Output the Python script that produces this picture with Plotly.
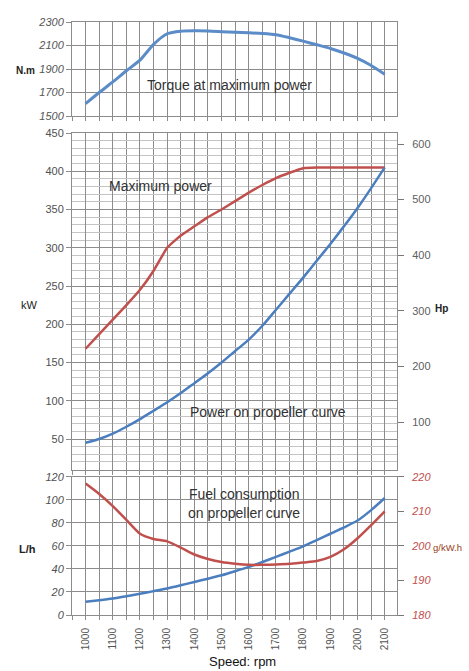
import plotly.graph_objects as go

# ---------------- data ----------------
rpm = [1000, 1050, 1100, 1150, 1200, 1250, 1300, 1350, 1400, 1450, 1500, 1550,
       1600, 1650, 1700, 1750, 1800, 1850, 1900, 1950, 2000, 2050, 2100]

torque_nm = [1605, 1700, 1790, 1885, 1975, 2110, 2200, 2222, 2225, 2224, 2218, 2212,
             2208, 2202, 2192, 2166, 2137, 2106, 2075, 2036, 1990, 1930, 1855]

max_power_kw = [168, 187, 206, 225, 245, 270, 300, 316, 328, 340, 350, 361,
                372, 382, 391, 398, 404, 405, 405, 405, 405, 405, 405]

prop_power_kw = [45, 50, 57, 66, 76, 87, 98, 110, 123, 136, 150, 165,
                 180, 198, 219, 240, 261, 283, 305, 328, 352, 378, 405]

fuel_lh = [11.5, 12.8, 14.3, 16.3, 18.5, 20.7, 23.0, 25.8, 28.7, 31.5, 34.5, 38.0,
           41.7, 46.0, 50.4, 55.0, 59.6, 65.0, 70.5, 76.0, 82.0, 91.0, 101.5]

bsfc_gkwh = [218.0, 215.0, 211.5, 207.5, 203.5, 202.0, 201.3, 199.5, 197.5, 196.2, 195.3, 194.8,
             194.5, 194.5, 194.6, 194.8, 195.2, 195.6, 196.8, 199.0, 202.2, 206.0, 210.0]

x_ticks = [1000, 1100, 1200, 1300, 1400, 1500, 1600, 1700, 1800, 1900, 2000, 2100]
torque_ticks = [1500, 1700, 1900, 2100, 2300]
kw_ticks = [50, 100, 150, 200, 250, 300, 350, 400, 450]
hp_ticks = [100, 200, 300, 400, 500, 600]
lh_ticks = [0, 20, 40, 60, 80, 100, 120]
g_ticks = [180, 190, 200, 210, 220]

# ---------------- layout helpers ----------------
W, H = 469, 671
def fx(p):
    return p / W
def fy(p):
    return 1 - p / H

BLUE = "#4a7ebf"
BLUE_T = "#5b8cc8"
RED = "#c0504d"
GRID = "#8c8c8c"
GRID_MINOR = "#c4c4c4"
TXT = "#404040"
FONT = "Liberation Sans, Arial, sans-serif"

fig = go.Figure()

fig.add_trace(go.Scatter(x=rpm, y=torque_nm, mode="lines", xaxis="x", yaxis="y",
                         line=dict(color=BLUE_T, width=3, shape="spline", smoothing=0.6)))
fig.add_trace(go.Scatter(x=rpm, y=max_power_kw, mode="lines", xaxis="x2", yaxis="y2",
                         line=dict(color=RED, width=2.5, shape="spline", smoothing=0.4)))
fig.add_trace(go.Scatter(x=rpm, y=prop_power_kw, mode="lines", xaxis="x2", yaxis="y2",
                         line=dict(color=BLUE, width=2.5, shape="spline", smoothing=0.6)))
fig.add_trace(go.Scatter(x=rpm, y=fuel_lh, mode="lines", xaxis="x3", yaxis="y3",
                         line=dict(color=BLUE, width=2.5, shape="spline", smoothing=0.6)))
fig.add_trace(go.Scatter(x=rpm, y=bsfc_gkwh, mode="lines", xaxis="x3", yaxis="y5",
                         line=dict(color=RED, width=2.5, shape="spline", smoothing=0.6)))
# placeholder so the Hp axis is drawn
fig.add_trace(go.Scatter(x=[None], y=[None], mode="lines", xaxis="x2", yaxis="y4",
                         hoverinfo="skip"))

xr = [950, 2145]
xdom = [fx(72), fx(397)]

def xaxis(anchor, labels):
    d = dict(domain=xdom, range=xr, anchor=anchor, tickmode="array", tickvals=x_ticks,
             showgrid=True, gridcolor=GRID, gridwidth=1, zeroline=False,
             showline=True, linecolor=GRID, linewidth=1, mirror=True,
             ticks="outside", ticklen=4, tickcolor=GRID, automargin=False,
             minor=dict(dtick=50, tick0=950, showgrid=True, gridcolor=GRID, gridwidth=1,
                        ticks="outside", ticklen=4, tickcolor=GRID),
             showticklabels=labels, fixedrange=True)
    if labels:
        d.update(tickangle=-90, tickfont=dict(family=FONT, size=10, color="#555555"),
                 ticklabelstandoff=4)
    return d

fig.update_layout(
    width=W, height=H,
    margin=dict(l=0, r=0, t=0, b=0, autoexpand=False),
    paper_bgcolor="white", plot_bgcolor="white",
    showlegend=False,
    font=dict(family=FONT, color=TXT),
    xaxis=xaxis("y", False),
    xaxis2=xaxis("y2", False),
    xaxis3=xaxis("y3", True),
    yaxis=dict(domain=[fy(116), fy(22)], range=[1500, 2300], anchor="x",
               tickmode="array", tickvals=torque_ticks, automargin=False,
               showgrid=True, gridcolor=GRID, zeroline=False,
               showline=True, linecolor=GRID, mirror=True,
               ticks="outside", ticklen=5, tickcolor=GRID,
               tickfont=dict(family=FONT, size=11, color="#555555", style="italic")),
    yaxis2=dict(domain=[fy(469.6), fy(133)], range=[10, 450], anchor="x2",
                tickmode="array", tickvals=kw_ticks, automargin=False,
                showgrid=True, gridcolor=GRID, zeroline=False,
                showline=True, linecolor=GRID, mirror=True,
                ticks="outside", ticklen=5, tickcolor=GRID,
                minor=dict(dtick=10, tick0=0, showgrid=True, gridcolor=GRID_MINOR),
                tickfont=dict(family=FONT, size=11, color="#505050")),
    yaxis4=dict(overlaying="y2", side="right", anchor="x2", range=[14.4, 619.8],
                tickmode="array", tickvals=hp_ticks, showgrid=False, zeroline=False,
                ticks="outside", ticklen=6, tickcolor="#777777", automargin=False,
                ticklabelstandoff=6,
                tickfont=dict(family=FONT, size=11, color="#606060")),
    yaxis3=dict(domain=[fy(615), fy(476.7)], range=[0, 120], anchor="x3",
                tickmode="array", tickvals=lh_ticks, automargin=False,
                showgrid=True, gridcolor=GRID, zeroline=False,
                showline=True, linecolor=GRID, mirror=True,
                ticks="outside", ticklen=5, tickcolor=GRID,
                tickfont=dict(family=FONT, size=11, color="#505050", style="italic")),
    yaxis5=dict(overlaying="y3", side="right", anchor="x3", range=[180, 220],
                tickmode="array", tickvals=g_ticks, showgrid=False, zeroline=False,
                ticks="outside", ticklen=6, tickcolor="#777777", automargin=False,
                ticklabelstandoff=6,
                tickfont=dict(family=FONT, size=11, color="#c0504d", style="italic")),
)

ann = []
def text(x, y, s, size=14, color="#333333", bold=False, xanchor="center", italic=False):
    ann.append(dict(x=fx(x), y=fy(y), xref="paper", yref="paper", text=(f"<b>{s}</b>" if bold else s),
                    showarrow=False, xanchor=xanchor, yanchor="middle",
                    font=dict(family=FONT, size=size, color=color,
                              style=("italic" if italic else "normal"))))

text(229, 85, "Torque at maximum power", size=14)
text(160, 186, "Maximum power", size=14)
text(268, 412, "Power on propeller curve", size=14)
text(244, 494, "Fuel consumption", size=14)
text(244, 513, "on propeller curve", size=14)
text(243, 661, "Speed: rpm", size=13, color="#111111")
text(25, 70, "N.m", size=10, color="#222222", bold=True)
text(29, 305, "kW", size=11, color="#222222")
text(27, 549, "L/h", size=11, color="#222222", bold=True)
text(441, 308, "Hp", size=10, color="#222222", bold=True)
text(431, 547, "g/kW.h", size=9.5, color="#9a4020", xanchor="left")

fig.update_layout(annotations=ann)

fig.write_html("out.html", config={"displayModeBar": False},
               post_script="document.body.style.margin='0';document.body.style.overflow='hidden';")
